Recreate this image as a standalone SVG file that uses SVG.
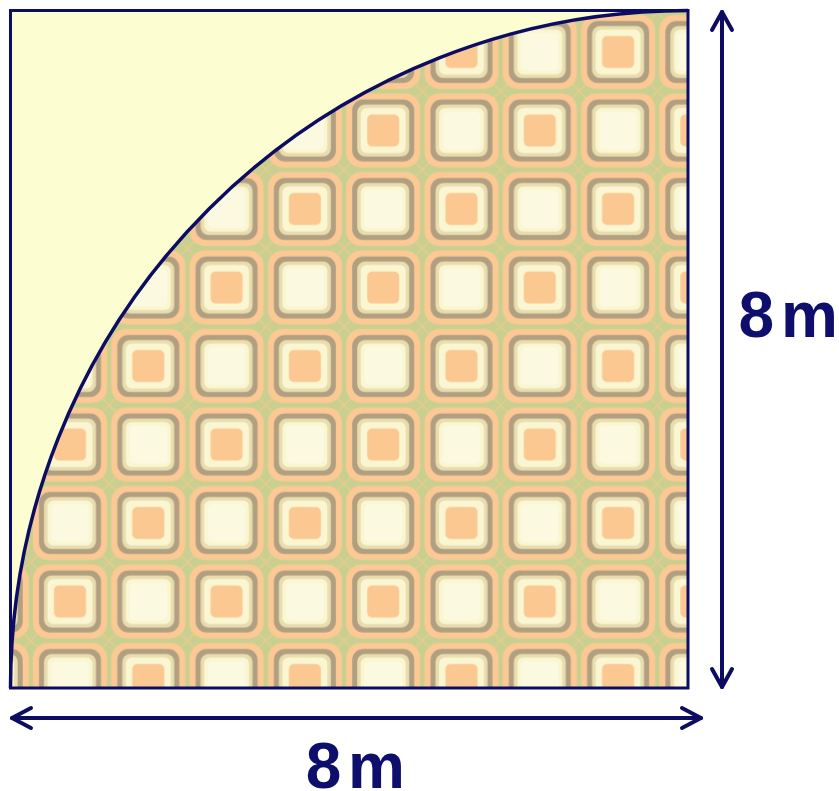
<svg xmlns="http://www.w3.org/2000/svg" width="839" height="791" viewBox="0 0 839 791">
  <style>
    .navy { stroke: #0c0c62; fill: none; }
    .lbl { font-family: "Liberation Sans", Arial, sans-serif; font-weight: bold; font-size: 64px; fill: #0e0e6c; word-spacing: -11px; }
    .o { fill: #fcc994; }
    .d { fill: #b09f80; }
    .b { fill: #e9ddae; }
    .c { fill: #f9f6d1; }
    .cl { fill: #fbf9e0; }
    .i { fill: #fcc891; }
    .dg { stroke: #f3c890; stroke-width: 1; fill: none; }
  </style>
  <defs>
    <g id="tile">
      <rect class="o" x="-37" y="-37" width="74" height="74" rx="15"/>
      <rect class="d" x="-31" y="-31" width="62" height="62" rx="11"/>
      <rect class="b" x="-26" y="-26" width="52" height="52" rx="8"/>
      <rect class="c" x="-22.5" y="-22.5" width="45" height="45" rx="6"/>
    </g>
    <g id="plain">
      <use href="#tile"/>
      <rect class="cl" x="-19" y="-19" width="38" height="38" rx="5"/>
    </g>
    <g id="dot">
      <use href="#tile"/>
      <rect class="i" x="-16" y="-16" width="32" height="32" rx="5"/>
    </g>
    <pattern id="tiles" patternUnits="userSpaceOnUse" x="30.85" y="12.75" width="156.6" height="157">
      <rect width="156.6" height="157" fill="#c9d08f"/>
      <path class="dg" d="M0,0 L156.6,157 M156.6,0 L0,157 M78.3,0 L156.6,78.5 L78.3,157 L0,78.5 Z"/>
      <use href="#plain" x="39.15" y="39.25"/>
      <use href="#dot" x="117.45" y="39.25"/>
      <use href="#dot" x="39.15" y="117.75"/>
      <use href="#plain" x="117.45" y="117.75"/>
    </pattern>
  </defs>

  <g id="square">
    <rect x="10.5" y="10.5" width="677.5" height="677.5" fill="#fdfdd2"/>
  </g>
  <g id="quarter">
    <path d="M10.5,688 A677.5,677.5 0 0 1 688,10.5 L688,688 Z" fill="url(#tiles)"/>
    <path class="navy" stroke-width="3.5" d="M10.5,688 A677.5,677.5 0 0 1 688,10.5"/>
  </g>
  <g id="outline">
    <rect class="navy" stroke-width="3" x="10.5" y="10.5" width="677.5" height="677.5"/>
  </g>

  <g id="connectors" class="navy" stroke-width="4" stroke-linecap="round" stroke-linejoin="round">
    <path d="M722,12 L722,687"/>
    <path d="M712,30 L722,12 L732,30"/>
    <path d="M712,669 L722,687 L732,669"/>
    <path d="M12,718 L701,718"/>
    <path d="M31,708 L12,718 L31,728"/>
    <path d="M682,708 L701,718 L682,728"/>
  </g>

  <g id="label-right">
    <text class="lbl" x="738.5" y="337">8 m</text>
  </g>
  <g id="label-bottom">
    <text class="lbl" x="305.7" y="788">8 m</text>
  </g>
</svg>
